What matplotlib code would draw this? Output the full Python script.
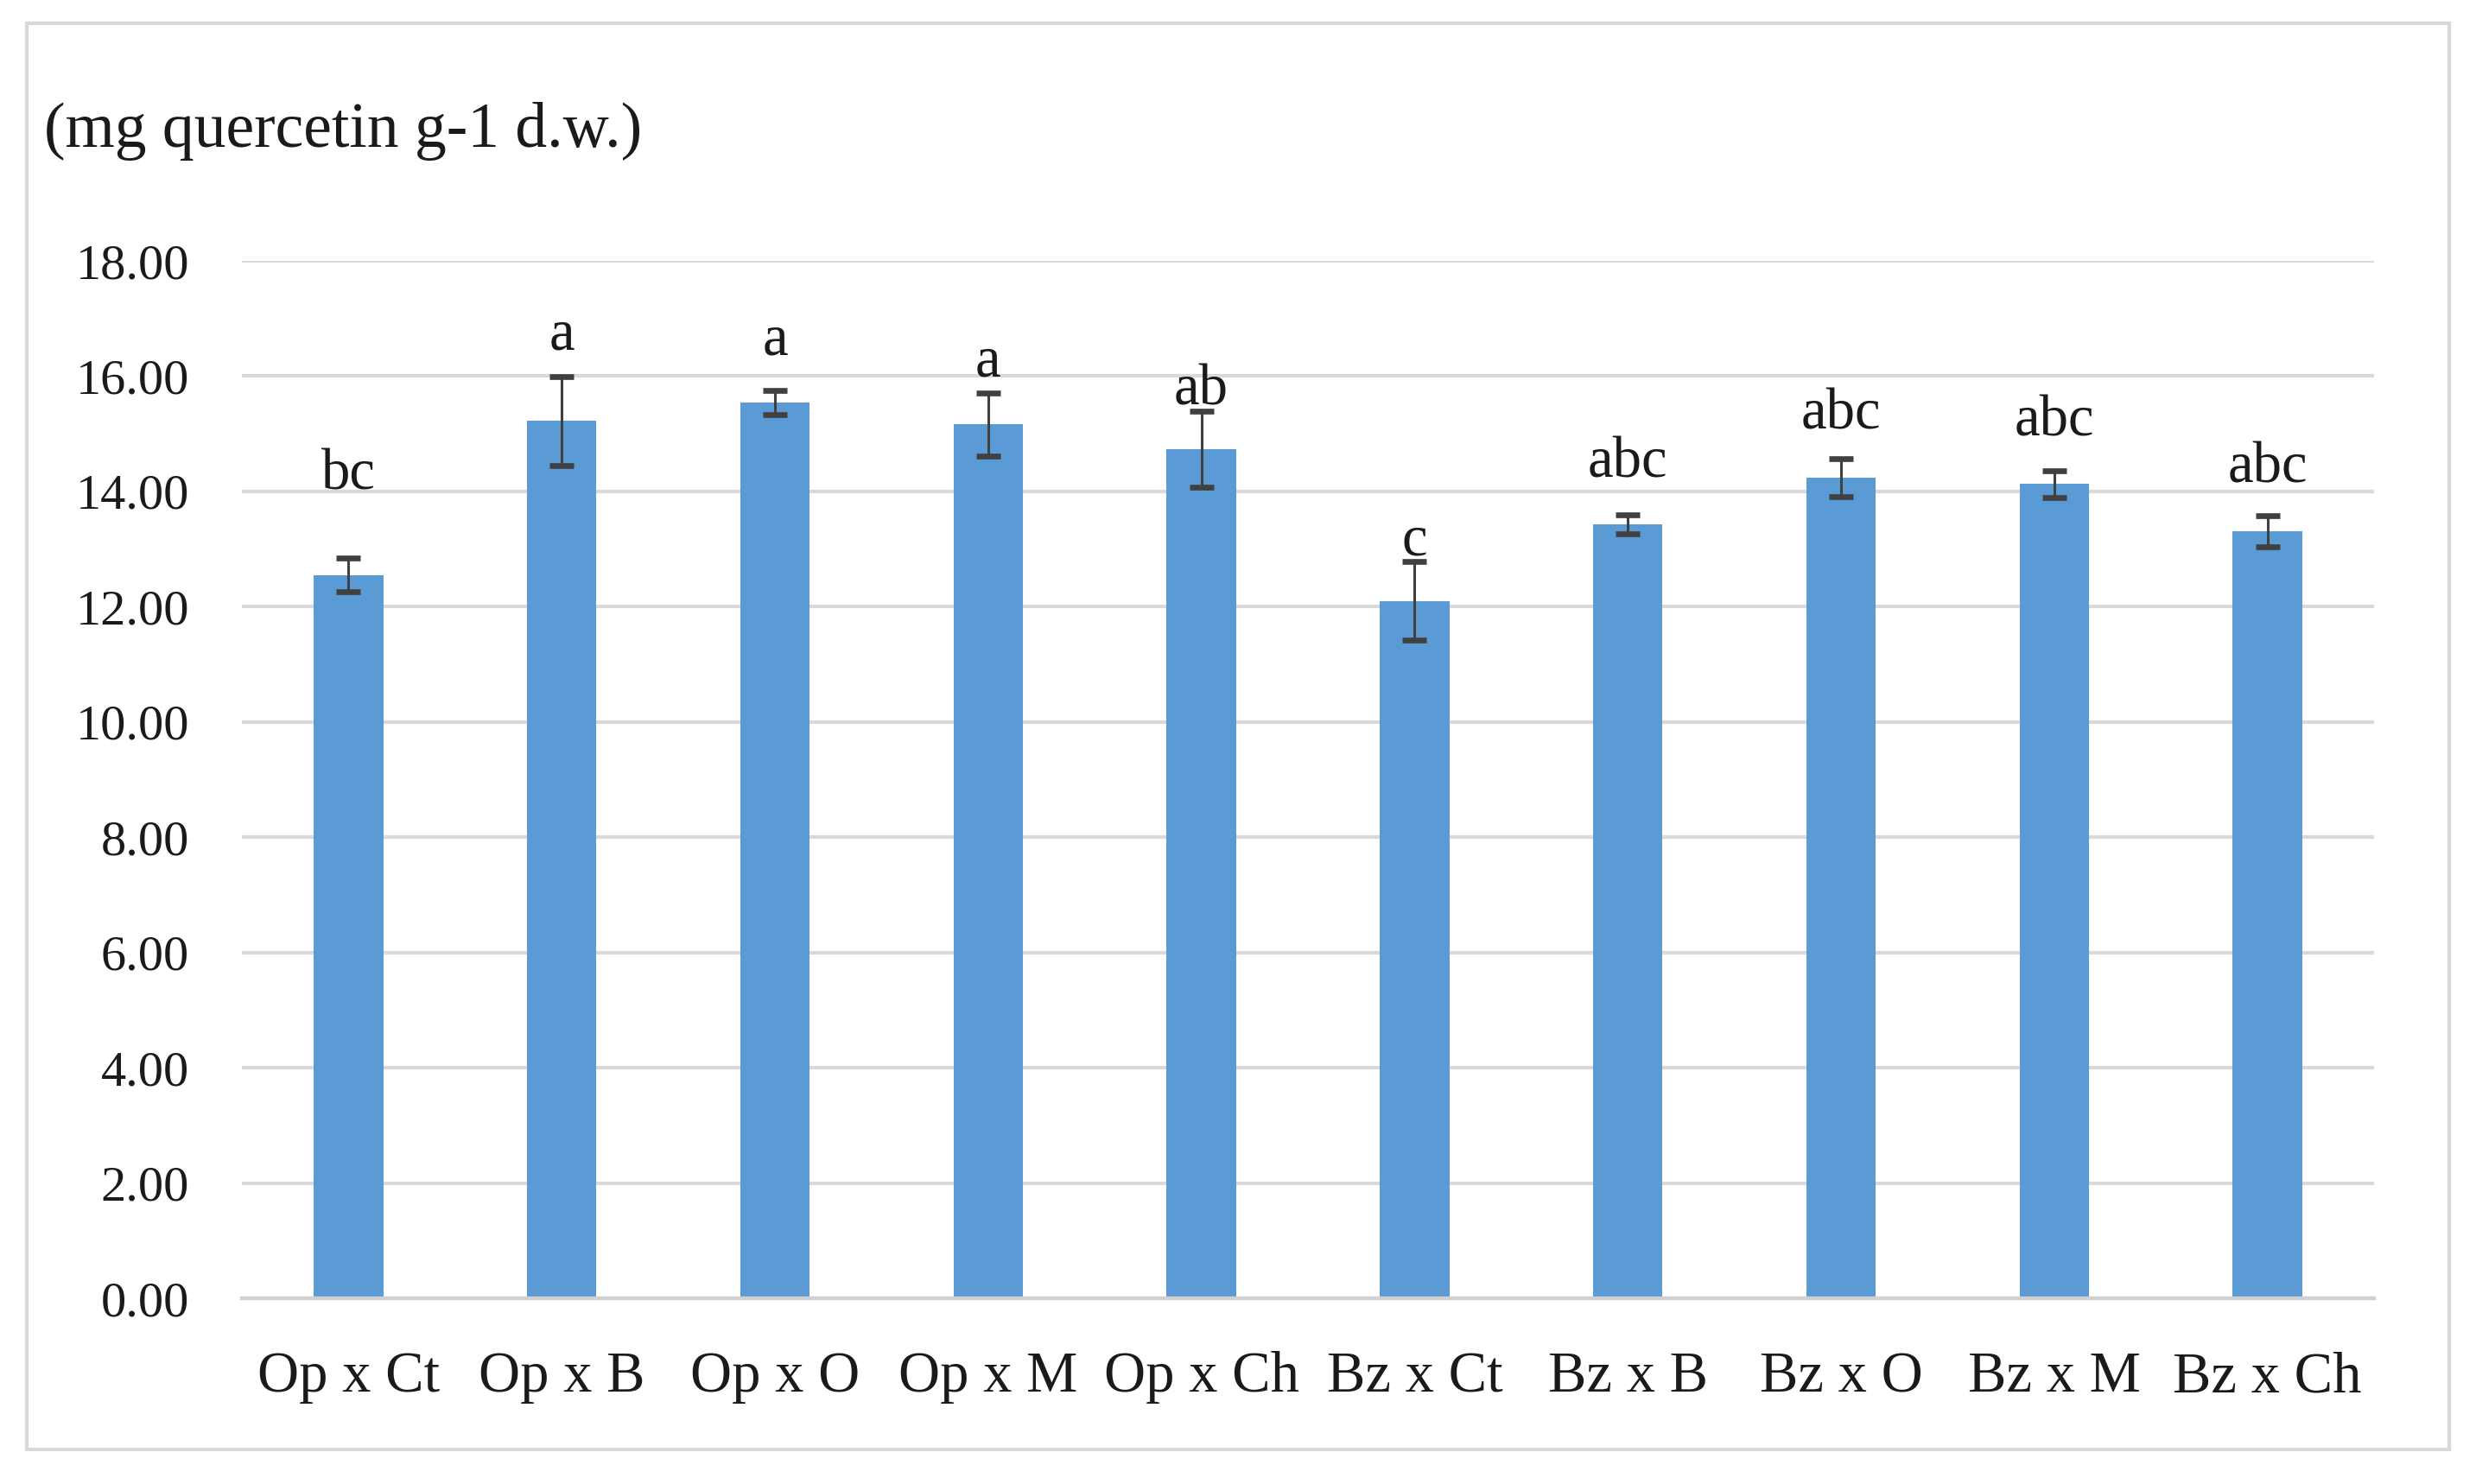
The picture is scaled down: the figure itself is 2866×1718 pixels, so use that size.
import matplotlib
matplotlib.use("Agg")
import matplotlib.pyplot as plt
from matplotlib.patches import Rectangle

# ---- data ----
categories = ["Op x Ct", "Op x B", "Op x O", "Op x M", "Op x Ch",
              "Bz x Ct", "Bz x B", "Bz x O", "Bz x M", "Bz x Ch"]
means = [12.55, 15.22, 15.54, 15.16, 14.73, 12.10, 13.43, 14.24, 14.13, 13.31]
errors = [0.29, 0.77, 0.21, 0.55, 0.66, 0.68, 0.17, 0.33, 0.23, 0.27]
letters = ["bc", "a", "a", "a", "ab", "c", "abc", "abc", "abc", "abc"]
letter_y = [14.03, 16.47, 16.37, 16.00, 15.50, 12.90, 14.25, 15.08, 14.97, 14.15]
yticks = [0, 2, 4, 6, 8, 10, 12, 14, 16, 18]
ytick_labels = ["0.00", "2.00", "4.00", "6.00", "8.00", "10.00",
                "12.00", "14.00", "16.00", "18.00"]
unit_label = "(mg quercetin g-1 d.w.)"

plt.rcParams['font.family'] = ['Liberation Serif', 'DejaVu Serif']

W, H = 2866, 1718
dpi = 200
fig = plt.figure(figsize=(W / dpi, H / dpi), dpi=dpi)
fig.patch.set_facecolor("white")

# outer frame
fig.patches.append(Rectangle((31 / W, 1 - 1678 / H), (2835 - 31) / W, (1678 - 27) / H,
                             transform=fig.transFigure, fill=False,
                             edgecolor="#d9d9d9", linewidth=1.5, zorder=0))

ax = fig.add_axes([280 / W, 1 - 1503 / H, (2748 - 280) / W, (1503 - 302) / H])

x = list(range(len(categories)))
ax.bar(x, means, width=0.326, color="#5b9bd5", zorder=2)
ax.errorbar(x, means, yerr=errors, fmt="none", ecolor="#404040",
            elinewidth=1.1, capsize=5, capthick=2.4, zorder=3)

for xi, lab, ly in zip(x, letters, letter_y):
    ax.text(xi, ly, lab, ha="center", va="baseline", fontsize=24,
            color="#1a1a1a", zorder=4)

ax.set_xlim(-0.5, len(categories) - 0.5)
ax.set_ylim(0, 18)
ax.set_yticks(yticks)
ax.set_yticklabels(ytick_labels)
ax.set_xticks(x)
ax.set_xticklabels(categories)
ax.yaxis.grid(True, color="#d9d9d9", linewidth=1.5, zorder=0)
ax.set_axisbelow(True)
for s in ["top", "right", "left"]:
    ax.spines[s].set_visible(False)
ax.spines["bottom"].set_color("#d0d0d0")
ax.spines["bottom"].set_linewidth(1.6)
ax.tick_params(axis="both", length=0, colors="#1a1a1a")
ax.tick_params(axis="y", pad=22, labelsize=21)
ax.tick_params(axis="x", pad=22, labelsize=24)

fig.text(51 / W, 1 - 170 / H, unit_label, ha="left", va="baseline",
         fontsize=26.5, color="#1a1a1a")

fig.savefig("out.png", dpi=dpi)
